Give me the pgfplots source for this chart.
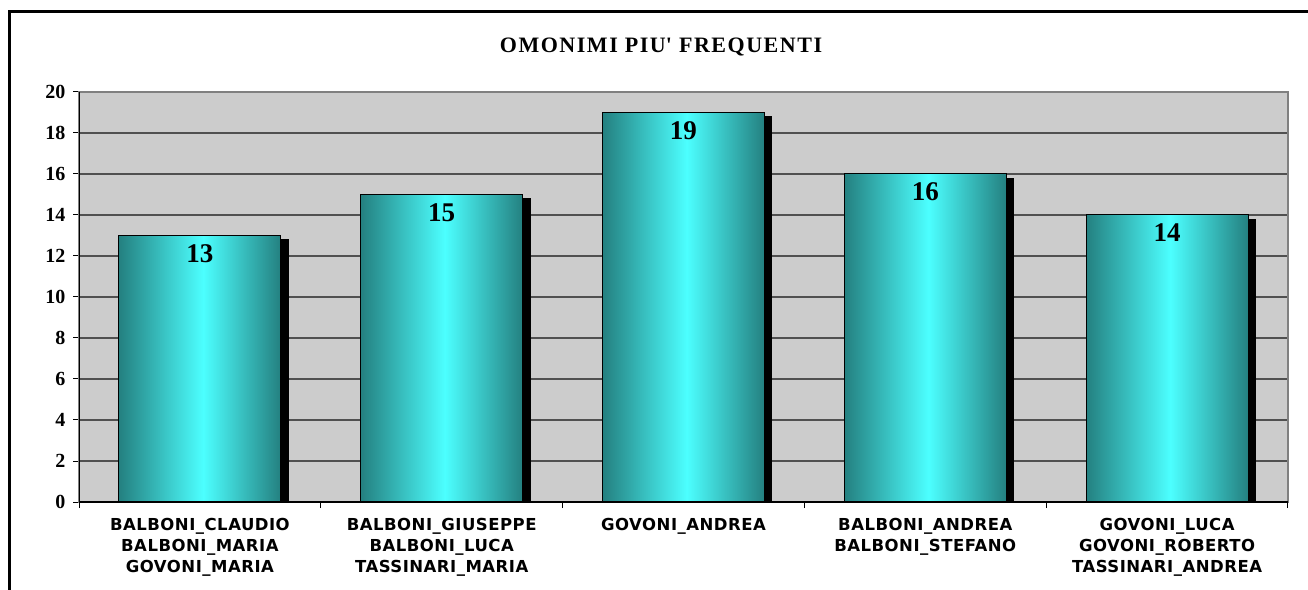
\documentclass[border=0pt]{standalone}
\usepackage{fontspec}
\setmainfont{Liberation Serif}
\newfontfamily\catfont{DejaVu Sans}[LetterSpace=3]
\newfontfamily\titlefont{Liberation Serif}[LetterSpace=7]
\usepackage{pgfplots}
\pgfplotsset{compat=1.18}
\definecolor{barDark}{RGB}{36,128,128}
\definecolor{barLight}{RGB}{76,255,255}
\definecolor{plotbg}{RGB}{204,204,204}
\definecolor{gridc}{RGB}{80,80,80}
\pgfdeclarehorizontalshading{cylbar}{100bp}{color(0bp)=(barDark); color(25bp)=(barDark); color(51bp)=(barLight); color(75bp)=(barDark); color(100bp)=(barDark)}
\pgfplotsset{
  shadowbar/.style={ybar, bar width=0.67, bar shift=8pt, fill=black, draw=none, yshift=-4pt},
  mainbar/.style={ybar, bar width=0.67, bar shift=0pt, draw=black, line width=1pt, shade, shading=cylbar,
    nodes near coords,
    every node near coord/.append style={anchor=north, yshift=-5pt, font=\fontsize{27}{27}\selectfont\bfseries}},
}
\begin{document}
\begin{tikzpicture}[x=1pt,y=1pt]
\useasboundingbox (0,0) rectangle (1308,589);
\draw[line width=3pt] (9,-20) -- (9,577) -- (1330,577);
\node[font=\titlefont\fontsize{22}{22}\selectfont\bfseries, anchor=base] at (661,536) {OMONIMI PIU\textquotesingle{} FREQUENTI};
\begin{axis}[
  at={(79pt,87pt)}, anchor=south west,
  scale only axis, width=1209pt, height=410pt,
  xmin=-0.5, xmax=4.5, ymin=0, ymax=20,
  ytick={0,2,...,20},
  xtick={0,...,4},
  xticklabels={{BALBONI\_CLAUDIO\\BALBONI\_MARIA\\GOVONI\_MARIA},
               {BALBONI\_GIUSEPPE\\BALBONI\_LUCA\\TASSINARI\_MARIA},
               {GOVONI\_ANDREA},
               {BALBONI\_ANDREA\\BALBONI\_STEFANO},
               {GOVONI\_LUCA\\GOVONI\_ROBERTO\\TASSINARI\_ANDREA}},
  minor xtick={-0.5,0.5,...,4.5},
  major x tick style={draw=none},
  tick align=outside, tick pos=left,
  major tick length=6pt, minor tick length=6pt,
  tick style={black, line width=1pt},
  ymajorgrids,
  major grid style={gridc, line width=1.3pt},
  axis background/.style={fill=plotbg},
  axis line style={draw=gray, line width=1.3pt},
  /pgf/number format/assume math mode=true,
  yticklabel style={font=\fontsize{20}{20}\selectfont\bfseries, xshift=-4pt},
  xticklabel style={font=\catfont\bfseries\fontsize{16.5}{21}\selectfont, align=center, yshift=-7pt},
]
\addplot[shadowbar] coordinates {(0,13)};
\addplot[shadowbar] coordinates {(1,15)};
\addplot[shadowbar] coordinates {(2,19)};
\addplot[shadowbar] coordinates {(3,16)};
\addplot[shadowbar] coordinates {(4,14)};
\addplot[mainbar] coordinates {(0,13)};
\addplot[mainbar] coordinates {(1,15)};
\addplot[mainbar] coordinates {(2,19)};
\addplot[mainbar] coordinates {(3,16)};
\addplot[mainbar] coordinates {(4,14)};
\draw[black, line width=1.5pt] (rel axis cs:0,1) -- (rel axis cs:0,0) -- (rel axis cs:1,0);
\end{axis}
\end{tikzpicture}
\end{document}
